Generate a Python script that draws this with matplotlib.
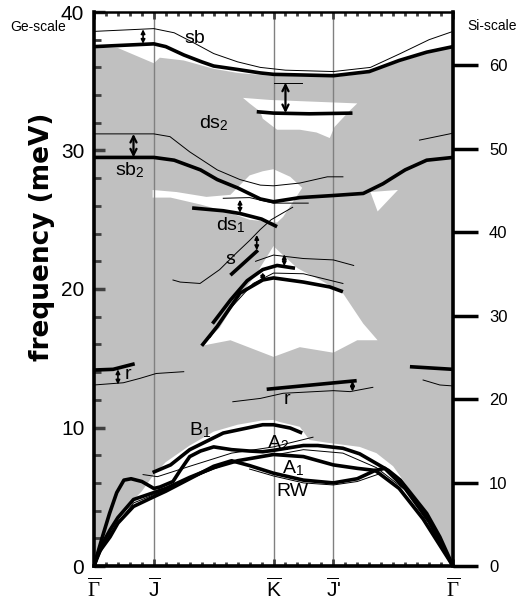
import numpy as np
import matplotlib
matplotlib.use("Agg")
import matplotlib.pyplot as plt
from matplotlib.ticker import MultipleLocator, FixedLocator

plt.rcParams['font.family'] = ['Liberation Sans', 'DejaVu Sans']
plt.rcParams['mathtext.fontset'] = 'custom'
plt.rcParams['mathtext.rm'] = 'Liberation Serif'
plt.rcParams['mathtext.sf'] = 'Liberation Sans'
plt.rcParams['mathtext.it'] = 'Liberation Serif:italic'

# ---------------- data (x: path coordinate, y: meV on Ge scale) ----------------
sym_pos = [0.0, 0.5, 1.5, 2.0, 3.0]
sym_labels = [r'$\overline{\Gamma}$', r'$\overline{\mathsf{J}}$', r'$\overline{\mathsf{K}}$',
              r"$\overline{\mathsf{J}}$'", r'$\overline{\Gamma}$']
vlines_x = [0.5, 1.5, 2.0]
ge_max = 40.0
si_per_ge = 1.659

# projected bulk band region
gray_low_x = [0, 0.1, 0.2, 0.3, 0.4, 0.45, 0.5, 0.6, 0.8, 1.0, 1.2, 1.4, 1.5, 1.55, 1.72, 1.8, 1.95, 2.22, 2.36, 2.5, 2.64, 2.78, 3.0]
gray_low_y = [0, 1.9, 3.4, 4.5, 5.4, 6.0, 6.6, 7.5, 8.7, 9.7, 10.2, 10.5, 10.55, 10.4, 10.05, 9.1, 8.9, 8.6, 8.15, 7.2, 5.5, 3.8, 0]
gray_top_x = [0, 0.2, 0.5, 0.55, 0.75, 1.0, 1.2, 1.4, 1.5, 2.0, 2.3, 2.55, 2.78, 3.0]
gray_top_y = [37.4, 37.4, 36.3, 36.7, 36.5, 35.9, 35.6, 35.45, 35.4, 35.3, 35.6, 36.4, 37.0, 37.5]

# gaps inside the bulk bands
gap_ds2_x = [1.245, 1.47, 2.20, 2.14, 2.01, 1.97, 1.86, 1.72, 1.53, 1.41, 1.39, 1.30]
gap_ds2_y = [33.8, 33.65, 33.4, 32.9, 31.7, 30.9, 31.3, 31.5, 31.5, 32.3, 32.8, 33.4]
gap_ds1_x = [0.49, 0.69, 0.94, 1.14, 1.30, 1.41, 1.50, 1.64, 1.74, 1.58, 1.53, 1.30, 1.14, 0.89, 0.64, 0.49]
gap_ds1_y = [27.15, 27.0, 26.65, 26.8, 28.2, 28.5, 28.65, 28.1, 27.3, 25.2, 24.8, 25.0, 25.5, 26.1, 26.6, 26.6]
gap_tri_x = [2.31, 2.54, 2.37]
gap_tri_y = [27.0, 27.15, 25.6]
gap_arch_x = [0.90, 1.05, 1.2, 1.35, 1.45, 1.5, 1.56, 1.7, 1.9, 2.08, 2.25, 2.37, 2.2, 2.0, 1.72, 1.5, 1.14]
gap_arch_y = [15.9, 17.2, 19.3, 21.0, 22.4, 23.1, 22.6, 21.5, 20.6, 19.7, 17.5, 16.3, 16.3, 15.4, 15.8, 15.1, 16.3]

# thick (calculated) and thin (comparison) dispersion curves
sb_thick_x = [0, 0.5, 0.6, 0.75, 0.9, 1.0, 1.2, 1.39, 1.5, 2.0, 2.3, 2.55, 2.78, 3.0]
sb_thick_y = [37.5, 37.7, 37.5, 36.9, 36.4, 36.1, 35.85, 35.6, 35.5, 35.4, 35.7, 36.5, 37.1, 37.5]
sb_thin_x = [0, 0.5, 0.67, 0.85, 1.0, 1.2, 1.39, 1.6, 2.0, 2.31, 2.56, 2.8, 3.0]
sb_thin_y = [38.6, 38.8, 38.5, 37.7, 37.0, 36.4, 36.0, 35.8, 35.7, 36.0, 37.0, 38.0, 38.6]
ds2_thick_x = [1.36, 1.5, 1.8, 2.16]
ds2_thick_y = [32.8, 32.7, 32.65, 32.7]
ds2_thin_x = [1.5, 1.74]
ds2_thin_y = [34.9, 34.9]
sb2_thick_x = [0, 0.5, 0.67, 0.89, 1.03, 1.2, 1.39, 1.5, 1.72, 2.0, 2.25, 2.415, 2.47, 2.6, 2.78, 3.0]
sb2_thick_y = [29.5, 29.5, 29.3, 28.6, 27.9, 27.3, 26.5, 26.3, 26.6, 26.75, 26.9, 27.6, 27.9, 28.6, 29.3, 29.5]
sb2_thin_x = [0, 0.5, 0.635, 0.8, 1.03, 1.22, 1.39, 1.5, 1.72, 1.95, 2.08]
sb2_thin_y = [31.2, 31.2, 31.0, 29.9, 28.6, 27.9, 27.5, 27.45, 27.65, 28.1, 28.1]
sb2_thin_r_x = [2.72, 3.0]
sb2_thin_r_y = [30.75, 31.25]
ds1_thick_x = [0.82, 1.08, 1.22, 1.40, 1.53]
ds1_thick_y = [25.85, 25.65, 25.45, 25.05, 24.5]
ds1_thin_x = [1.08, 1.3, 1.5, 1.79]
ds1_thin_y = [26.55, 26.6, 26.2, 26.2]
s_thin_x = [0.66, 0.72, 0.886, 1.05, 1.19, 1.30, 1.39, 1.48, 1.66]
s_thin_y = [20.65, 20.5, 20.4, 21.4, 22.6, 23.5, 24.3, 25.0, 25.9]
s_thick_x = [1.14, 1.37]
s_thick_y = [21.0, 22.8]
arch_thin_top_x = [1.35, 1.5, 1.75, 2.0, 2.17]
arch_thin_top_y = [22.0, 22.45, 22.2, 22.1, 21.7]
arch_thick_up_x = [0.99, 1.14, 1.28, 1.41, 1.53, 1.68]
arch_thick_up_y = [17.5, 19.2, 20.6, 21.4, 21.7, 21.5]
arch_thin_mid_x = [0.97, 1.13, 1.33, 1.5, 1.75, 2.08]
arch_thin_mid_y = [16.5, 18.5, 20.4, 21.15, 21.1, 20.4]
arch_thick_lo_x = [0.9, 1.03, 1.22, 1.41, 1.5, 1.75, 1.97, 2.08]
arch_thick_lo_y = [15.9, 17.3, 19.7, 20.65, 20.8, 20.5, 20.15, 19.8]
r_left_thick_x = [0, 0.16, 0.34]
r_left_thick_y = [14.15, 14.2, 14.6]
r_left_thin_x = [0, 0.245, 0.385, 0.52, 0.75]
r_left_thin_y = [13.07, 13.23, 13.55, 13.9, 14.03]
r_mid_thick_x = [1.443, 2.195]
r_mid_thick_y = [12.76, 13.38]
r_mid_thin_x = [1.16, 1.39, 1.58, 2.0, 2.14, 2.33]
r_mid_thin_y = [11.86, 12.1, 12.47, 12.66, 12.59, 12.9]
r_right_thick_x = [2.64, 3.0]
r_right_thick_y = [14.39, 14.2]
r_right_thin_x = [2.75, 2.89, 3.0]
r_right_thin_y = [13.43, 13.07, 13.0]
a2_x = [0, 0.07, 0.13, 0.19, 0.25, 0.31, 0.4, 0.5, 0.55, 0.66, 0.72, 0.8, 0.89, 1.0, 1.15, 1.3, 1.41, 1.5,
        1.75, 1.87, 2.08, 2.22, 2.36, 2.46, 2.56, 2.67, 2.78, 2.89, 3.0]
a2_y = [0, 2.1, 3.8, 5.3, 6.2, 6.3, 6.1, 5.6, 5.7, 6.1, 6.9, 7.9, 8.3, 8.6, 8.4, 8.3, 8.25, 8.35,
        8.7, 8.7, 8.5, 8.1, 7.4, 6.9, 6.2, 5.0, 3.8, 2.1, 0]
a1_x = [0, 0.05, 0.134, 0.2, 0.33, 0.5, 0.6, 0.8, 1.0, 1.2, 1.5, 1.75, 2.0, 2.2, 2.35, 2.55, 2.75, 3.0]
a1_y = [0, 1.3, 2.6, 3.5, 4.8, 5.3, 5.6, 6.4, 7.1, 7.6, 8.05, 7.9, 7.3, 7.05, 6.9, 5.6, 3.4, 0]
rw_x = [0, 0.05, 0.134, 0.2, 0.33, 0.5, 0.6, 0.8, 1.0, 1.15, 1.3, 1.5, 1.75, 2.0, 2.2, 2.35, 2.43, 2.6, 2.8, 3.0]
rw_y = [0, 1.1, 2.1, 3.1, 4.3, 5.0, 5.4, 6.3, 7.2, 7.6, 7.25, 6.7, 6.2, 6.0, 6.3, 6.9, 7.05, 5.6, 3.2, 0]
b1_x = [0.49, 0.64, 0.8, 1.08, 1.41, 1.5, 1.64, 1.74]
b1_y = [6.75, 7.3, 8.4, 9.6, 10.2, 10.2, 9.96, 9.6]
low_thin1_x = [0.41, 0.53, 0.8, 1.15, 1.5, 1.83]
low_thin1_y = [6.6, 6.45, 7.2, 8.15, 8.6, 9.3]
low_thin2_x = [1.5, 1.75, 2.08, 2.36, 2.6, 2.8]
low_thin2_y = [8.0, 8.4, 8.15, 7.1, 5.5, 3.3]
low_thin3_x = [1.3, 1.5, 1.75, 2.0, 2.2, 2.4]
low_thin3_y = [7.0, 6.5, 6.0, 5.85, 6.1, 6.7]
low_thin4_x = [0, 0.134, 0.33, 0.5, 0.8, 1.0, 1.15]
low_thin4_y = [0, 2.35, 4.55, 5.15, 6.3, 7.0, 7.5]

# double arrows: x, y_from, y_to
arrows_big = [(0.33, 31.2, 29.5), (1.6, 34.9, 32.7)]
arrows_small = [(0.41, 38.75, 37.7), (1.22, 26.45, 25.5), (1.36, 23.9, 22.8), (1.59, 22.5, 21.65),
                (1.41, 21.2, 20.6), (0.2, 14.2, 13.1), (2.16, 13.35, 12.6)]

labels = [('sb', 0.84, 38.1), ('ds$_\\mathsf{2}$', 1.0, 32.0), ('sb$_\\mathsf{2}$', 0.3, 28.6),
          ('ds$_\\mathsf{1}$', 1.14, 24.6), ('s', 1.14, 22.1), ('r', 0.28, 13.8), ('r', 1.61, 12.0),
          ('B$_\\mathsf{1}$', 0.89, 9.8), ('A$_\\mathsf{2}$', 1.54, 8.9), ('A$_\\mathsf{1}$', 1.66, 7.1),
          ('RW', 1.66, 5.35)]

thick_curves = [(sb_thick_x, sb_thick_y), (ds2_thick_x, ds2_thick_y), (sb2_thick_x, sb2_thick_y),
                (ds1_thick_x, ds1_thick_y), (s_thick_x, s_thick_y), (arch_thick_up_x, arch_thick_up_y),
                (arch_thick_lo_x, arch_thick_lo_y), (r_left_thick_x, r_left_thick_y),
                (r_mid_thick_x, r_mid_thick_y), (r_right_thick_x, r_right_thick_y),
                (a2_x, a2_y), (a1_x, a1_y), (rw_x, rw_y), (b1_x, b1_y)]
thin_curves = [(sb_thin_x, sb_thin_y), (ds2_thin_x, ds2_thin_y), (sb2_thin_x, sb2_thin_y),
               (sb2_thin_r_x, sb2_thin_r_y), (ds1_thin_x, ds1_thin_y), (s_thin_x, s_thin_y),
               (arch_thin_top_x, arch_thin_top_y), (arch_thin_mid_x, arch_thin_mid_y),
               (r_left_thin_x, r_left_thin_y), (r_mid_thin_x, r_mid_thin_y),
               (r_right_thin_x, r_right_thin_y), (low_thin1_x, low_thin1_y),
               (low_thin2_x, low_thin2_y), (low_thin3_x, low_thin3_y), (low_thin4_x, low_thin4_y)]
gaps = [(gap_ds2_x, gap_ds2_y), (gap_ds1_x, gap_ds1_y), (gap_tri_x, gap_tri_y), (gap_arch_x, gap_arch_y)]

# ---------------- figure ----------------
fig = plt.figure(figsize=(5.2, 6.05), dpi=100)
ax = fig.add_axes([94/520, 39/605, 359/520, 554/605])
ax.set_xlim(0, 3)
ax.set_ylim(0, ge_max)

ax.fill(np.r_[gray_low_x, gray_top_x[::-1]], np.r_[gray_low_y, gray_top_y[::-1]],
        color='#c0c0c0', lw=0, zorder=0)
for gx, gy in gaps:
    ax.fill(gx, gy, color='white', lw=0, zorder=0.5)
for xv in vlines_x:
    ax.axvline(xv, color='#808080', lw=1.0, zorder=1)
for cx, cy in thin_curves:
    ax.plot(cx, cy, color='black', lw=0.7, zorder=2)
for cx, cy in thick_curves:
    ax.plot(cx, cy, color='black', lw=2.6, zorder=3, solid_capstyle='butt')

for xa, y1, y2 in arrows_big:
    ax.annotate('', xy=(xa, y2), xytext=(xa, y1),
                arrowprops=dict(arrowstyle='<->', lw=1.6, color='black', shrinkA=0, shrinkB=0,
                                mutation_scale=11), zorder=4)
for xa, y1, y2 in arrows_small:
    ax.annotate('', xy=(xa, y2), xytext=(xa, y1),
                arrowprops=dict(arrowstyle='<|-|>', lw=1.2, color='black', shrinkA=0, shrinkB=0,
                                mutation_scale=6), zorder=4)

for txt, tx, ty in labels:
    ax.text(tx, ty, txt, fontsize=14, ha='center', va='center', zorder=5)

# ticks
ax.xaxis.set_major_locator(FixedLocator(sym_pos))
ax.set_xticklabels(sym_labels, fontsize=15)
ax.xaxis.set_minor_locator(MultipleLocator(0.1))
ax.yaxis.set_major_locator(MultipleLocator(10))
ax.yaxis.set_minor_locator(MultipleLocator(2))
ax.tick_params(axis='x', which='major', direction='in', length=5, width=2, color='#404040',
               top=True, bottom=True, pad=8)
ax.tick_params(axis='x', which='minor', direction='in', length=3, width=2, color='#404040',
               top=True, bottom=True)
ax.tick_params(axis='y', which='major', direction='in', length=8, width=2.5, color='#404040',
               left=True, right=True, labelsize=15, pad=7)
ax.tick_params(axis='y', which='minor', direction='in', length=5, width=2, color='#404040',
               left=True, right=True)
for sp in ax.spines.values():
    sp.set_linewidth(2.6)
ax.spines['top'].set_linewidth(1.8)

ax2 = ax.twinx()
ax2.set_ylim(0, ge_max * si_per_ge)
ax2.yaxis.set_major_locator(MultipleLocator(10))
ax2.tick_params(axis='y', which='major', direction='out', length=18, width=2.5, color='black',
                labelsize=12, pad=8)
for sp in ax2.spines.values():
    sp.set_visible(False)

fig.text(42/520, 1 - 237/605, 'frequency (meV)', rotation=90, fontsize=19, fontweight='bold',
         family='DejaVu Sans', ha='center', va='center')
fig.text(38/520, 1 - 27/605, 'Ge-scale', fontsize=10, ha='center', va='center')
fig.text(492/520, 1 - 26/605, 'Si-scale', fontsize=10, ha='center', va='center')

fig.savefig('out.png', dpi=100)
